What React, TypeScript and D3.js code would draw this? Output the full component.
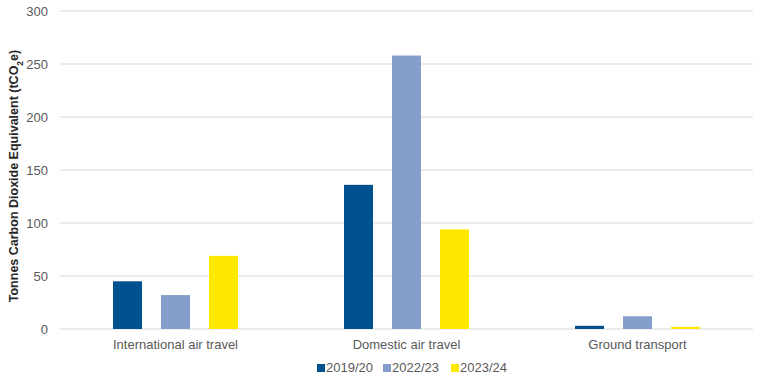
import React from "react";
import * as d3 from "d3";

const categories = ["International air travel", "Domestic air travel", "Ground transport"];
const seriesNames = ["2019/20", "2022/23", "2023/24"];
const values2019 = [45, 136, 3];
const values2022 = [32, 258, 12];
const values2023 = [69, 94, 2];
const yTicks = [0, 50, 100, 150, 200, 250, 300];
const colors = ["#00528F", "#849FCB", "#FFE800"];

export default function App() {
  const W = 760, H = 387;
  const left = 60, right = 753, top = 11, bottom = 329;
  const series = [values2019, values2022, values2023];
  const x0 = d3.scaleBand().domain(categories).range([left, right]).padding(0);
  const y = d3.scaleLinear().domain([0, 300]).range([bottom, top]);
  const barW = 29, pitch = 48;
  const font = "'Liberation Sans', Arial, sans-serif";
  const legendX = [317, 383, 451];
  return (
    <svg width={W} height={H} style={{ position: "absolute", left: 0, top: 0 }} fontFamily={font}>
      {yTicks.map((t) => (
        <g key={t}>
          <line x1={left} x2={right} y1={y(t)} y2={y(t)} stroke="#D9D9D9" strokeWidth={1} />
          <text x={48} y={y(t)} dy="0.35em" textAnchor="end" fontSize={13} fill="#595959">{t}</text>
        </g>
      ))}
      {categories.map((c, i) => {
        const cx = x0(c)! + x0.bandwidth() / 2;
        return (
          <g key={c}>
            {series.map((s, j) => (
              <rect key={j} x={cx + (j - 1) * pitch - barW / 2} y={y(s[i])} width={barW} height={y(0) - y(s[i])} fill={colors[j]} />
            ))}
            <text x={cx} y={349} textAnchor="middle" fontSize={13} fill="#595959">{c}</text>
          </g>
        );
      })}
      <text transform={`translate(18,${176}) rotate(-90)`} textAnchor="middle" fontSize={12.5} fontWeight="bold" fill="#262626">
        Tonnes Carbon Dioxide Equivalent (tCO<tspan baseline-shift="sub" fontSize={8.5}>2</tspan><tspan>e)</tspan>
      </text>
      {seriesNames.map((n, j) => (
        <g key={n}>
          <rect x={legendX[j]} y={364} width={8} height={8} fill={colors[j]} />
          <text x={legendX[j] + 9} y={372} fontSize={13} fill="#595959">{n}</text>
        </g>
      ))}
    </svg>
  );
}
